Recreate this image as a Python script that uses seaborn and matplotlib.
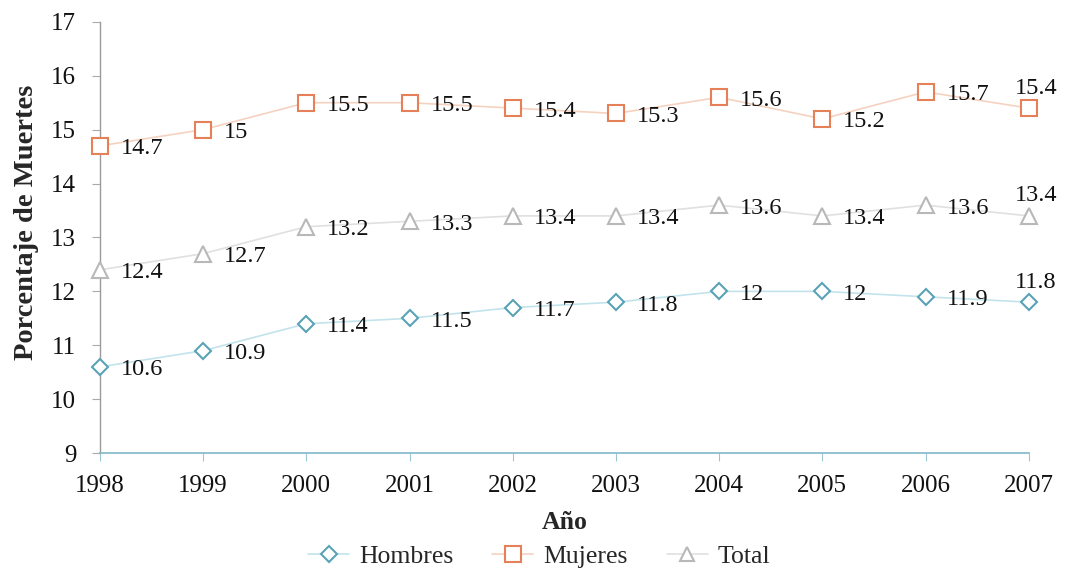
import matplotlib
matplotlib.use("Agg")
import matplotlib.pyplot as plt
import seaborn as sns
import pandas as pd
from matplotlib.lines import Line2D

years = [1998, 1999, 2000, 2001, 2002, 2003, 2004, 2005, 2006, 2007]
hombres = [10.6, 10.9, 11.4, 11.5, 11.7, 11.8, 12, 12, 11.9, 11.8]
mujeres = [14.7, 15, 15.5, 15.5, 15.4, 15.3, 15.6, 15.2, 15.7, 15.4]
total = [12.4, 12.7, 13.2, 13.3, 13.4, 13.4, 13.6, 13.4, 13.6, 13.4]
series_names = ["Hombres", "Mujeres", "Total"]

sns.set_theme(style="white")
plt.rcParams["font.family"] = ["Liberation Serif", "DejaVu Serif"]

fig = plt.figure(figsize=(10.68, 5.75), dpi=100)
ax = fig.add_axes([0.0936, 0.212, 0.8696, 0.750])

styles = {
    "Hombres": dict(marker="D", ms=8.5, edge="#5aa3b6", line="#c3e3ec"),
    "Mujeres": dict(marker="s", ms=11.5, edge="#e68058", line="#f5d2c0"),
    "Total": dict(marker="^", ms=11, edge="#b8b8b8", line="#e0e0e0"),
}

df = pd.DataFrame({"Año": years, "Hombres": hombres, "Mujeres": mujeres, "Total": total})

for name in series_names:
    st = styles[name]
    sns.lineplot(data=df, x="Año", y=name, ax=ax, color=st["line"], lw=1.2,
                 marker=st["marker"], markersize=st["ms"],
                 markerfacecolor="white", markeredgecolor=st["edge"],
                 markeredgewidth=1.5, clip_on=False, zorder=3)
    for i, (x, y) in enumerate(zip(years, df[name])):
        label = f"{y:g}"
        if i == len(years) - 1:
            ax.annotate(label, (x, y), xytext=(-14, 20), textcoords="offset pixels",
                        ha="left", va="center", fontsize=17.5, color="#111111")
        else:
            ax.annotate(label, (x, y), xytext=(21, -3), textcoords="offset pixels",
                        ha="left", va="center", fontsize=17.5, color="#111111")

ax.set_xlim(1998, 2007)
ax.set_ylim(9, 17)
ax.set_xticks(years)
ax.set_yticks(range(9, 18))
ax.tick_params(axis="both", labelsize=18, colors="#111111", length=6, width=0.8,
               direction="out", left=True, bottom=True)
ax.tick_params(axis="x", color="#9cc6d2", pad=10)
ax.tick_params(axis="y", color="#aaaaaa", pad=11)

for side in ["top", "right"]:
    ax.spines[side].set_visible(False)
ax.spines["left"].set_color("#9a9a9a")
ax.spines["left"].set_linewidth(1.0)
ax.spines["bottom"].set_color("#7fb8c8")
ax.spines["bottom"].set_linewidth(1.2)

ax.set_xlabel("Año", fontsize=18.5, fontweight="bold", labelpad=10)
ax.set_ylabel("Porcentaje de Muertes", fontsize=20.5, fontweight="bold", labelpad=8)
ax.yaxis.set_label_coords(-0.066, 0.535)

handles = [
    Line2D([0], [0], color=styles[n]["line"], lw=1.2, marker=styles[n]["marker"],
           markersize=styles[n]["ms"] * 0.95, markerfacecolor="white",
           markeredgecolor=styles[n]["edge"], markeredgewidth=1.5)
    for n in series_names
]
fig.legend(handles, series_names, loc="center", bbox_to_anchor=(0.505, 0.032), ncol=3,
           frameon=False, fontsize=18.5, handlelength=1.6, columnspacing=1.5,
           handletextpad=0.4)

fig.savefig("out.png", dpi=100, facecolor="white")
